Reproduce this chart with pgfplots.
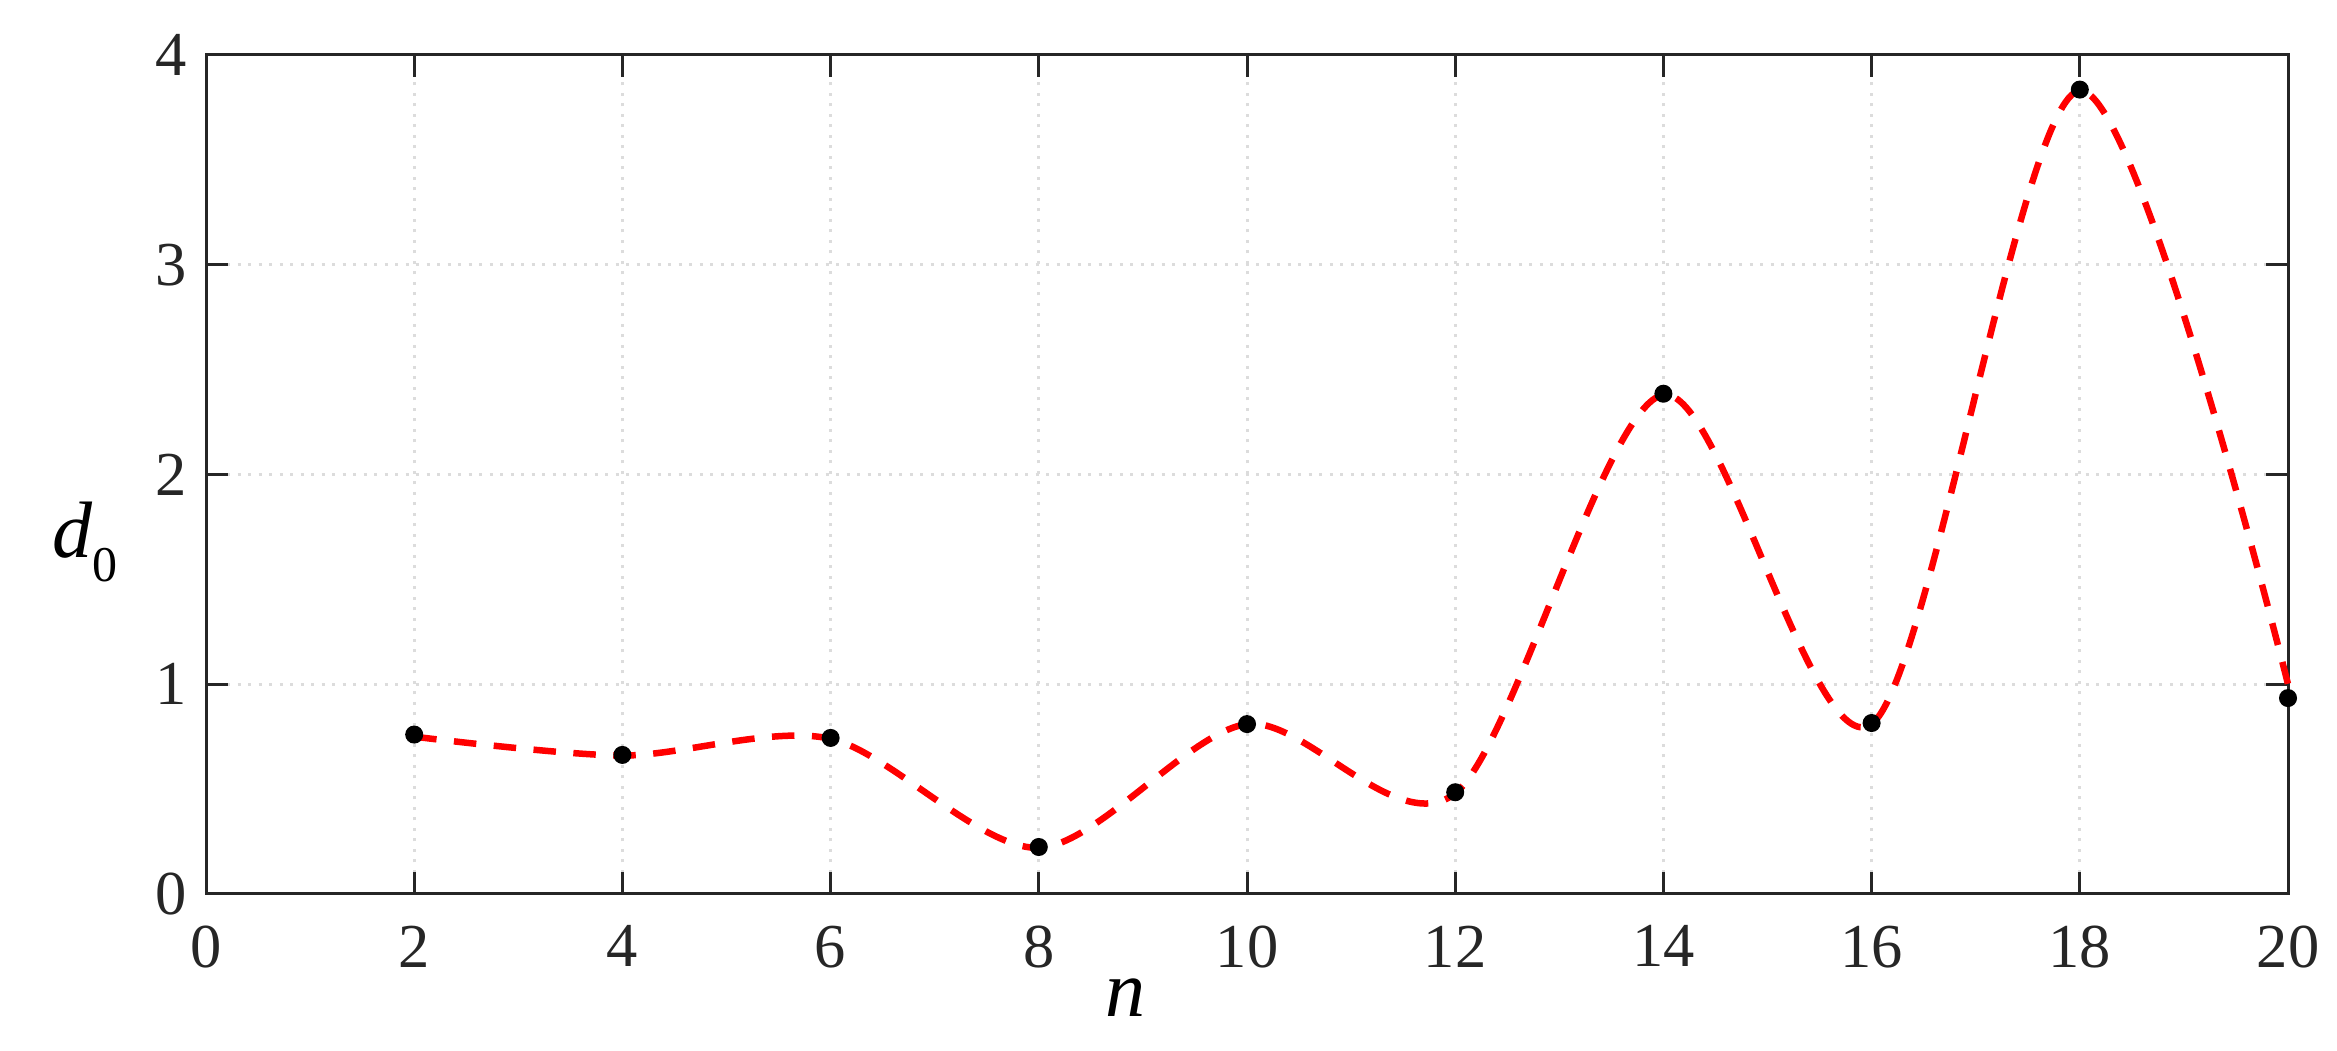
\documentclass[border=0pt]{standalone}
\usepackage{fontspec}
\setmainfont{Liberation Serif}
\usepackage{pgfplots}
\pgfplotsset{compat=1.18}
\definecolor{axgray}{HTML}{262626}
\definecolor{gridgray}{HTML}{DCDCDC}
\definecolor{curvered}{HTML}{FF0000}

\begin{document}
\begin{tikzpicture}
\begin{axis}[
  width=416.4pt, height=167.8pt, scale only axis,
  xmin=0, xmax=20, ymin=0, ymax=4,
  xtick={0,2,...,20}, ytick={0,1,2,3,4},
  tick align=inside, tick pos=both, major tick length=4.4pt,
  axis line style={axgray, line width=0.6pt},
  every tick/.style={axgray, line width=0.6pt},
  tick label style={font=\fontsize{12.5}{15}\selectfont, text=axgray},
  /pgf/number format/assume math mode=true,
  xticklabel shift=2.8pt, yticklabel shift=0.4pt,
  grid=major,
  major grid style={gridgray, line width=0.6pt, dash pattern=on 0.6pt off 1.5pt},
  every axis x label/.style={at={(rel axis cs:0.4414,0)}, anchor=base, yshift=-24.6pt},
  every axis y label/.style={at={(rel axis cs:0,0.4005)}, anchor=base west, xshift=-34.2pt},
  xlabel={\fontsize{16}{19}\selectfont\itshape n},
  ylabel={\fontsize{16}{19}\selectfont\itshape d\/\raisebox{-0.3em}{\upshape\fontsize{10}{12}\selectfont 0}},
  clip=false,
]
% fitted curve (dashed)
\addplot[curvered, line width=1.3pt, dash pattern=on 4.5pt off 3.5pt, smooth, tension=0.5] coordinates {
  (2,0.75) (4,0.66) (6,0.74) (8,0.22) (10,0.81) (12,0.48) (14,2.38) (16,0.81) (18,3.83) (20,1.00)
};
% measured values
\addplot[only marks, mark=*, mark size=1.6pt, black] coordinates {
  (2,0.76) (4,0.663) (6,0.744) (8,0.224) (10,0.81) (12,0.485) (14,2.385) (16,0.815) (18,3.835) (20,0.934)
};
\end{axis}
\path (current axis.south west) +(-41.2pt,-31.4pt) (current axis.north east) +(9.8pt,11pt);
\end{tikzpicture}
\end{document}
